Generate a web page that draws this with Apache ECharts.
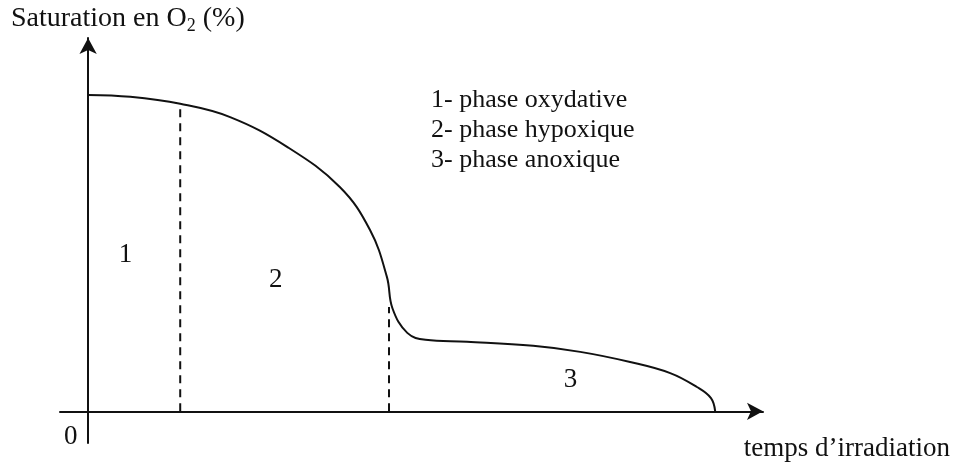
<!DOCTYPE html>
<html>
<head>
<meta charset="utf-8">
<script src="https://cdn.jsdelivr.net/npm/echarts@6/dist/echarts.min.js"></script>
<style>
  html,body{margin:0;padding:0;background:#fff}
  #chart{width:956px;height:466px}
</style>
</head>
<body>
<div id="chart"></div>
<script>
// courbe de saturation (temps en unités arbitraires, O2 en %)
let curveX = [0, 6.0, 13.1, 20.2, 28.3, 35.8, 40.1, 42.5, 43.3, 45.4, 48.0, 53.9, 63.3, 70.0, 77.1, 82.8, 86.6, 88.6, 89.2]
let curveY = [100, 99.4, 97.2, 93.0, 83.6, 70.9, 57.3, 42.5, 32.5, 24.8, 22.6, 22.0, 20.7, 18.8, 15.6, 12.1, 7.7, 4.2, 0]

// limites des phases (traits pointillés)
let limitX = [13.1, 42.8]
let limitTop = [97.2, 33]

// numéros des phases
let phaseNames = ['1', '2', '3']
let phaseX = [5.3, 26.7, 68.6]
let phaseY = [49.4, 41.5, 9.9]

let legendLines = ['1- phase oxydative', '2- phase hypoxique', '3- phase anoxique']
let yTitle = 'Saturation en O'
let xTitle = 'temps d\u2019irradiation'
let originLabel = '0'

const serif = "'Liberation Serif', 'Times New Roman', serif"
const ink = '#111'

let myChart = echarts.init(document.getElementById('chart'))

let axisBase = {
  type: 'value',
  axisLine: {show: true, onZero: true, symbol: ['none', 'arrow'], symbolSize: [13, 16], lineStyle: {color: ink, width: 2}},
  axisTick: {show: false},
  axisLabel: {show: false},
  splitLine: {show: false}
}

let series = []
series.push({
  type: 'line',
  data: curveX.map((v, i) => [v, curveY[i]]),
  symbol: 'none',
  smooth: 0.4,
  lineStyle: {color: ink, width: 2},
  silent: true
})
limitX.map((v, i) => {
  series.push({
    type: 'line',
    data: [[v, 0], [v, limitTop[i]]],
    symbol: 'none',
    lineStyle: {color: ink, width: 2, type: [8, 6]},
    silent: true
  })
})
series.push({
  type: 'scatter',
  data: phaseX.map((v, i) => ({value: [v, phaseY[i]], name: phaseNames[i]})),
  symbolSize: 0,
  itemStyle: {opacity: 1},
  label: {show: true, position: 'inside', formatter: '{b}', color: ink, fontFamily: serif, fontSize: 27},
  silent: true
})

let option = {
  animation: false,
  grid: {left: 60, right: 193, top: 38, bottom: 23},
  xAxis: Object.assign({}, axisBase, {min: -4, max: 96}),
  yAxis: Object.assign({}, axisBase, {min: -10, max: 118}),
  series: series,
  graphic: [
    {type: 'text', left: 11, top: 5, style: {
      text: '{a|' + yTitle + '}{s|2}{a| (%)}',
      rich: {
        a: {fontFamily: serif, fontSize: 28, fill: ink, lineHeight: 32, verticalAlign: 'middle'},
        s: {fontFamily: serif, fontSize: 18, fill: ink, lineHeight: 32, verticalAlign: 'bottom'}
      }
    }},
    {type: 'text', right: 6, top: 435, style: {text: xTitle, fontFamily: serif, fontSize: 27, fill: ink}},
    {type: 'text', left: 64, top: 423, style: {text: originLabel, fontFamily: serif, fontSize: 27, fill: ink}}
  ].concat(legendLines.map((t, i) => ({
    type: 'text', left: 431, top: 87 + i * 30, style: {text: t, fontFamily: serif, fontSize: 26, fill: ink}
  })))
}
myChart.setOption(option)
</script>
</body>
</html>
